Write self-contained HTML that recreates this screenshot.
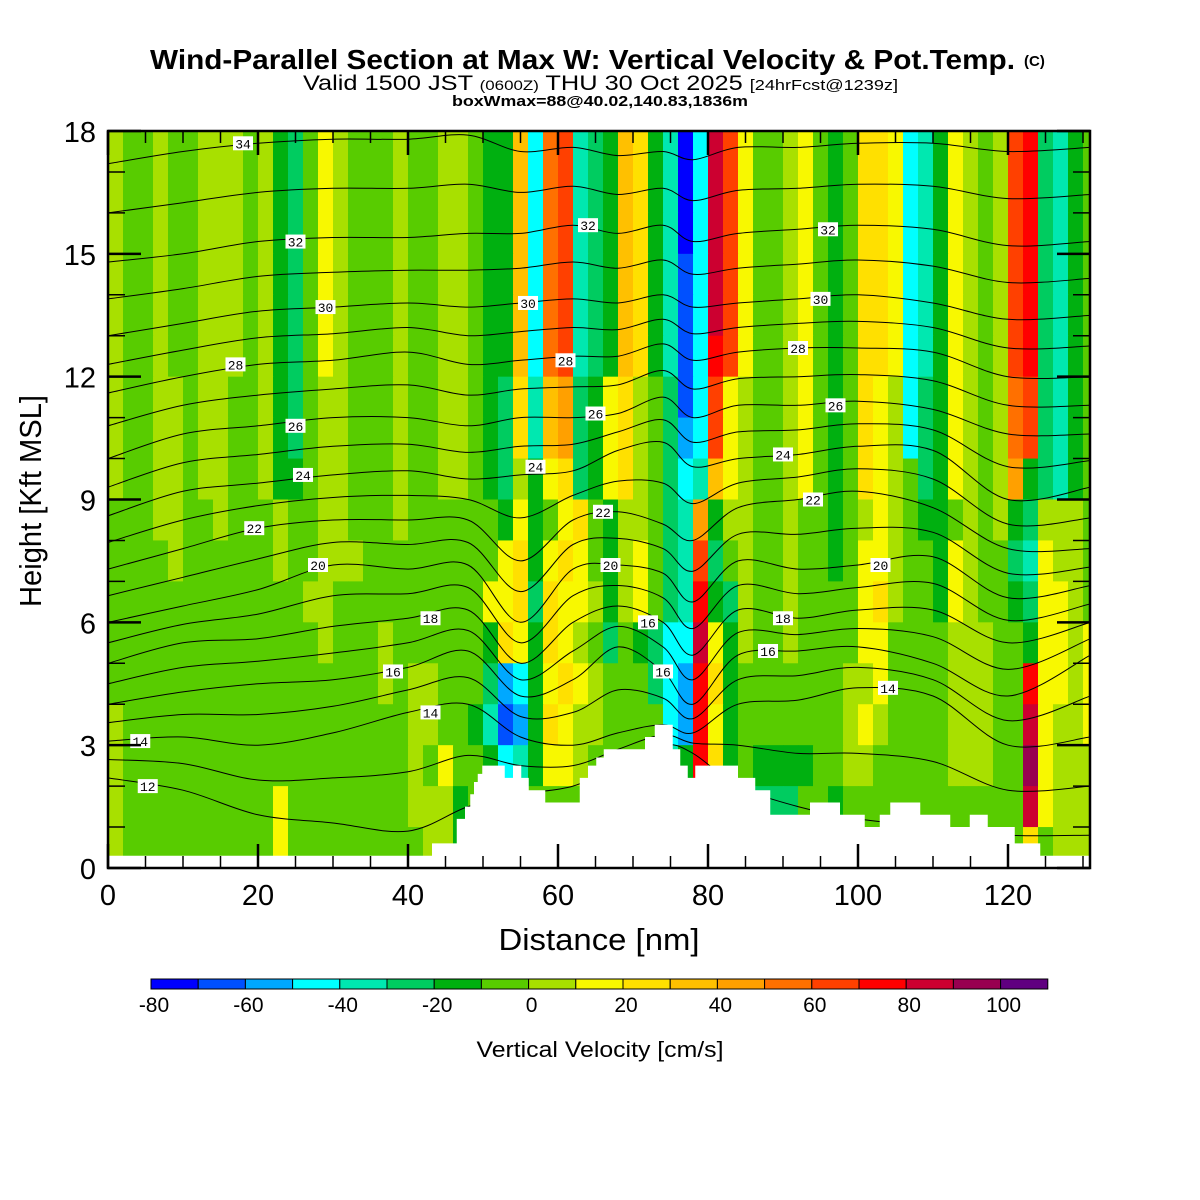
<!DOCTYPE html>
<html><head><meta charset="utf-8"><style>
html,body{margin:0;padding:0;background:#fff;}
svg{display:block;font-family:"Liberation Sans",sans-serif;}
</style></head><body>
<svg id="chart" width="1200" height="1200" viewBox="0 0 1200 1200" xmlns="http://www.w3.org/2000/svg">
<rect width="1200" height="1200" fill="#fff"/>
<text x="150" y="69" font-size="28" font-weight="bold" textLength="865" lengthAdjust="spacingAndGlyphs">Wind-Parallel Section at Max W: Vertical Velocity &amp; Pot.Temp.</text>
<text x="1024" y="66" font-size="15" font-weight="bold">(C)</text>
<text x="303" y="90" font-size="21" textLength="595" lengthAdjust="spacingAndGlyphs">Valid 1500 JST <tspan font-size="14">(0600Z)</tspan> THU 30 Oct 2025 <tspan font-size="15">[24hrFcst@1239z]</tspan></text>
<text x="452" y="106" font-size="15" font-weight="bold" textLength="296" lengthAdjust="spacingAndGlyphs">boxWmax=88@40.02,140.83,1836m</text>
<defs><clipPath id="plotclip"><rect x="108" y="131" width="982" height="737"/></clipPath></defs>
<g id="heat" clip-path="url(#plotclip)"></g>
<g id="contours" clip-path="url(#plotclip)"></g>
<g id="terrain" clip-path="url(#plotclip)"></g>
<g id="clabels"></g>
<g id="axes"></g>
<rect x="108" y="131" width="982" height="737" fill="none" stroke="#000" stroke-width="2.5"/>
<text x="599" y="950" font-size="31" text-anchor="middle" textLength="201" lengthAdjust="spacingAndGlyphs">Distance [nm]</text>
<text x="0" y="0" font-size="31" text-anchor="middle" transform="translate(41,501) rotate(-90)" textLength="212" lengthAdjust="spacingAndGlyphs">Height [Kft MSL]</text>
<g id="cbar"></g>
<text x="600" y="1057" font-size="22" text-anchor="middle" textLength="247" lengthAdjust="spacingAndGlyphs">Vertical Velocity [cm/s]</text>
</svg>
<script>
// ---- data ----
const levelColors = ["#0000ff","#0050ff","#00a8ff","#00ffff","#00e8b0","#00cc60","#00b010","#58cc00","#a8e000","#f8f800","#ffe000","#ffc000","#ffa000","#ff7000","#ff4000","#ff0000","#cc0030","#980050","#600080"];
const levelEdges = [-80,-70,-60,-50,-40,-30,-20,-10,0,10,20,30,40,50,60,70,80,90,100,110];
const cbarTicks = [-80,-60,-40,-20,0,20,40,60,80,100];
// w field: rows top (17-18 kft) to bottom (0-1 kft), columns every 2 nm; letter a..s = level index
const wRows = [
"ihhihhiiih"+"igfhjihhhi"+"hhiihggldn"+"oefglkgead"+"qojhhijhgh"+"kkjdegjihi"+"opfegh",
"ihhihhiiih"+"igfhjihhhi"+"hhiihggldn"+"oefglkgead"+"qojhhijhgh"+"kkjdegjihi"+"opfegh",
"ihhihhiiih"+"igfhjihhhi"+"hhiihggldn"+"oefglkgead"+"qojhhijhgh"+"kkjdegjihi"+"opfegh",
"ihhihhiiih"+"igfhjihhhi"+"hhiihggldn"+"oefglkgebd"+"qojhhijhgh"+"kkjdegjihi"+"opfegh",
"ihhihhiiih"+"igfhjihhhi"+"hhiihggldn"+"oefglkgebd"+"qojhhijhgh"+"kkjdegjihi"+"opfegh",
"ihhihhiiih"+"igfhjihhhi"+"hhiihggldn"+"oefglkgebd"+"pojhhijhgh"+"kkjdegjihi"+"opfegh",
"ihhiihiihh"+"igfhiihhhi"+"hhiihgfkel"+"mfgjkihfbd"+"ojihhijhgh"+"kjidfgjihi"+"nofegh",
"ihhiihiihh"+"igfhiihhhi"+"hhiihgfkel"+"mfgjkihfcd"+"ojihhijhgh"+"kjidfgjihi"+"nofegh",
"ihhiihiihh"+"igghiihhhi"+"hhiihgfigj"+"kfgjkihfde"+"ljihhijhgh"+"kjihfgjihi"+"mgfegh",
"hhhiihhihh"+"hihhiihhhi"+"hhhhhhgjgh"+"jkhgiihfem"+"giihhihhgh"+"ijihgghihi"+"gfiiih",
"hhhhihhhhh"+"hihhiiihhh"+"hhhhhhjkgj"+"kjhgijhfeo"+"fhihhihhgh"+"jjihhgjihh"+"fejiih",
"hhhhhhhhhh"+"hhhiihhhhh"+"hhhhhjjkfk"+"jjigijhfep"+"gfihhihhhh"+"jkihhgjihh"+"gfjjih",
"hhhhhhhhhh"+"hhhhihhhih"+"hhhhhgkjgk"+"jihfhgfddq"+"jgihhihhhh"+"jjhhhhiiih"+"hgjjij",
"hhhhhhhhhh"+"hhhhhhhhih"+"iihhhfcdgj"+"kjihhhfdcp"+"kghhhhhhhi"+"ijhhhhiiih"+"hpjjij",
"ihhhhhhhhh"+"hhhhhhhhhh"+"iihhgebcgk"+"jiihhhhdcp"+"jghhhhhhhi"+"jihhhhiiih"+"hqjiij",
"ihhhhhhhhh"+"hhhhhhhhhh"+"ihjhhgdegj"+"jihhhhhegp"+"kghgggghhi"+"ihhhhhiiih"+"hrjiii",
"ihhhhhhhhh"+"hjhhhhhhhh"+"iiighjhhhh"+"hhhhhhhhhh"+"hggfffhhgh"+"hhhhhhhhhh"+"hqjiii",
"ihhhhhhhhh"+"hjhhhhhhhh"+"hiighhhhhh"+"hhhhhhhhhh"+"hhhhhhhhhh"+"hhhhhhhhhh"+"hkhiii"
];
const cellNm = 2;
const cellKft = 1;
// theta contour heights (kft) at x nodes (nm), even values
const thetaX = [0,10,20,30,40,48,55,62,68,74,78,84,92,100,110,120,131];
const thetaValues = [12,14,16,18,20,22,24,26,28,30,32,34];
const th12 = [2.2,1.9,1.3,1.1,0.9,1.5,1.8,2.0,2.5,3.0,2.8,2.0,1.5,1.2,1.0,0.8,0.8];
const th14 = [3.1,3.2,3.0,3.3,3.8,4.0,3.2,3.0,3.3,3.5,3.3,4.0,4.1,4.4,4.2,3.0,3.2];
const th16 = [4.0,4.3,4.5,4.6,4.9,5.3,4.2,4.6,5.4,4.8,4.0,5.2,5.3,5.4,5.0,4.2,5.2];
const th18 = [5.0,5.5,5.6,5.9,6.1,6.3,5.0,6.0,6.4,6.0,5.2,6.3,6.1,6.3,6.3,5.5,6.0];
const th20 = [6.0,6.4,6.8,7.4,7.3,7.4,6.0,7.3,7.4,7.2,6.5,7.5,7.3,7.4,7.6,6.6,6.9];
const th22 = [7.3,7.8,8.3,8.5,8.5,8.5,7.5,8.5,8.7,8.4,8.0,8.8,9.0,9.2,8.8,7.8,7.8];
const th24 = [8.6,9.2,9.4,9.6,9.7,9.5,9.6,9.7,10.2,10.4,9.8,10.0,10.1,10.3,10.2,9.0,9.3];
const th26 = [10.0,10.6,10.8,11.0,11.0,10.8,11.0,11.0,11.1,11.5,11.0,11.3,11.3,11.4,11.2,10.6,10.6];
const th28 = [11.6,12.0,12.3,12.4,12.6,12.3,12.4,12.5,12.5,12.8,12.4,12.6,12.7,12.7,12.6,12.0,12.0];
const th30 = [13.0,13.3,13.6,13.7,13.8,13.7,13.8,13.9,13.8,14.0,13.7,13.8,13.9,14.0,13.8,13.4,13.5];
const th32 = [14.8,15.0,15.3,15.4,15.4,15.5,15.5,15.7,15.5,15.7,15.3,15.5,15.6,15.7,15.6,15.2,15.3];
const th34 = [17.2,17.5,17.7,17.8,17.8,17.9,17.5,17.6,17.4,17.5,17.3,17.6,17.6,17.7,17.7,17.5,17.6];
const thetaSeries = [th12,th14,th16,th18,th20,th22,th24,th26,th28,th30,th32,th34];
// contour labels
const labelText = ["12","14","14","16","18","20","22","24","26","28","30","32","34","16","16","20","22","24","26","28","30","32","14","16","18","20","22","24","26","28","30","32"];
const labelX = [5.3,4.3,43,38,43,28,19.5,26,25,17,29,25,18,72,74,67,66,57,65,61,56,64,104,88,90,103,94,90,97,92,95,96];
const labelY = [2.0,3.1,3.8,4.8,6.1,7.4,8.3,9.6,10.8,12.3,13.7,15.3,17.7,6.0,4.8,7.4,8.7,9.8,11.1,12.4,13.8,15.7,4.4,5.3,6.1,7.4,9.0,10.1,11.3,12.7,13.9,15.6];
// terrain step profile
const terrainX = [0,43.2,46.5,47.6,48.3,48.8,49.3,49.9,52.9,54.0,55.1,56.1,58.3,62.9,64.0,65.1,66.1,71.6,72.9,75.3,76.3,77.3,78.3,84.0,86.3,88.3,93.6,97.6,100.9,102.9,104.3,108.3,112.3,114.9,117.3,120.9,124.3,131];
const terrainH = [0.3,0.6,1.2,1.5,1.8,2.1,2.3,2.5,2.2,2.5,2.2,1.9,1.6,2.2,2.5,2.7,2.9,3.2,3.5,2.9,2.5,2.2,2.5,2.2,1.9,1.3,1.6,1.3,1.0,1.3,1.6,1.3,1.0,1.3,1.0,0.6,0.3,0.3];
const xTicks = [0,20,40,60,80,100,120];
const yTicks = [0,3,6,9,12,15,18];

// ---- scales ----
const NS="http://www.w3.org/2000/svg";
const X0=108, X1=1090, Y0=868, Y1=131;
const xs = nm => X0 + nm*7.5;
const ys = k => Y0 - k*(Y0-Y1)/18;
function mk(tag, attrs, parent){const e=document.createElementNS(NS,tag);for(const k in attrs)e.setAttribute(k,attrs[k]);parent.appendChild(e);return e;}

// heatmap
const heat=document.getElementById('heat');
wRows.forEach((row,r)=>{
  const kTop = 18 - r*cellKft;
  for(let c=0;c<row.length;c++){
    const li = row.charCodeAt(c)-97;
    const rect=mk('rect',{x:xs(c*cellNm),y:ys(kTop),width:xs((c+1)*cellNm)-xs(c*cellNm)+0.5,height:ys(kTop-cellKft)-ys(kTop)+0.5,fill:levelColors[li]},heat);
    
    
  }
});

// contours
function smoothPath(pts){
  let d='M'+pts[0][0]+','+pts[0][1];
  for(let i=0;i<pts.length-1;i++){
    const p0=pts[Math.max(0,i-1)],p1=pts[i],p2=pts[i+1],p3=pts[Math.min(pts.length-1,i+2)];
    const c1=[p1[0]+(p2[0]-p0[0])/6,p1[1]+(p2[1]-p0[1])/6];
    const c2=[p2[0]-(p3[0]-p1[0])/6,p2[1]-(p3[1]-p1[1])/6];
    d+=' C'+c1[0].toFixed(1)+','+c1[1].toFixed(1)+' '+c2[0].toFixed(1)+','+c2[1].toFixed(1)+' '+p2[0].toFixed(1)+','+p2[1].toFixed(1);
  }
  return d;
}
const cg=document.getElementById('contours');
function drawContour(hts){
  const pts=thetaX.map((x,i)=>[xs(x),ys(hts[i])]);
  const p=mk('path',{d:smoothPath(pts),fill:'none',stroke:'#000','stroke-width':1},cg);
  
  
}
thetaSeries.forEach((s,i)=>{
  drawContour(s);
  if(i<thetaSeries.length-1){
    const n=thetaSeries[i+1];
    drawContour(s.map((v,j)=>(v+n[j])/2));
  }
});

// terrain
const tg=document.getElementById('terrain');
let td='M'+xs(0)+','+ys(0);
terrainX.forEach((x,i)=>{
  const nx = i<terrainX.length-1 ? terrainX[i+1] : 131;
  td+=' L'+xs(x)+','+ys(terrainH[i])+' L'+xs(nx)+','+ys(terrainH[i]);
});
td+=' L'+xs(131)+','+ys(0)+' Z';
const tp=mk('path',{d:td,fill:'#fff',stroke:'none'},tg);



// contour labels
const lg=document.getElementById('clabels');
labelText.forEach((t,i)=>{
  const cx=xs(labelX[i]), cy=ys(labelY[i]);
  const g=mk('g',{},lg);
  
  
  mk('rect',{x:cx-10,y:cy-7,width:20,height:14,fill:'#fff'},g);
  const tx=mk('text',{x:cx,y:cy+5,'font-size':13,'text-anchor':'middle','font-family':'"Liberation Mono",monospace'},g);
  tx.textContent=t;
});

// axes ticks
const ag=document.getElementById('axes');
for(let nm=0;nm<=130;nm+=5){
  const major = nm%20===0;
  const L = major?24:12;
  const x=xs(nm);
  const t1=mk('line',{x1:x,x2:x,y1:Y0,y2:Y0-L,stroke:'#000','stroke-width':major?2.5:1.5},ag);
  
  
  const t2=mk('line',{x1:x,x2:x,y1:Y1,y2:Y1+L,stroke:'#000','stroke-width':major?2.5:1.5},ag);
  
  
}
for(let k=0;k<=18;k++){
  const major = k%3===0;
  const L = major?33:17;
  const y=ys(k);
  const t1=mk('line',{x1:X0,x2:X0+L,y1:y,y2:y,stroke:'#000','stroke-width':major?2.5:1.5},ag);
  
  
  const t2=mk('line',{x1:X1,x2:X1-L,y1:y,y2:y,stroke:'#000','stroke-width':major?2.5:1.5},ag);
  
  
}
xTicks.forEach(v=>{
  const t=mk('text',{x:xs(v),y:905,'font-size':29,'text-anchor':'middle'},ag);
  
  
  t.textContent=v;
});
yTicks.forEach(v=>{
  const t=mk('text',{x:96,y:ys(v)+11,'font-size':29,'text-anchor':'end'},ag);
  
  
  t.textContent=v;
});

// colorbar
const cb=document.getElementById('cbar');
const CB0=151, CBW=47.2, CBY=979, CBH=10;
const cbX = v => CB0 + (v-levelEdges[0])/10*CBW;
levelColors.forEach((col,i)=>{
  const r=mk('rect',{x:cbX(levelEdges[i]),y:CBY,width:CBW,height:CBH,fill:col,stroke:'#000','stroke-width':1},cb);
  
  
});
cbarTicks.forEach(v=>{
  const t=mk('text',{x:cbX(v)+3,y:1012,'font-size':21,'text-anchor':'middle'},cb);
  
  
  t.textContent=v;
});
</script>
</body></html>
